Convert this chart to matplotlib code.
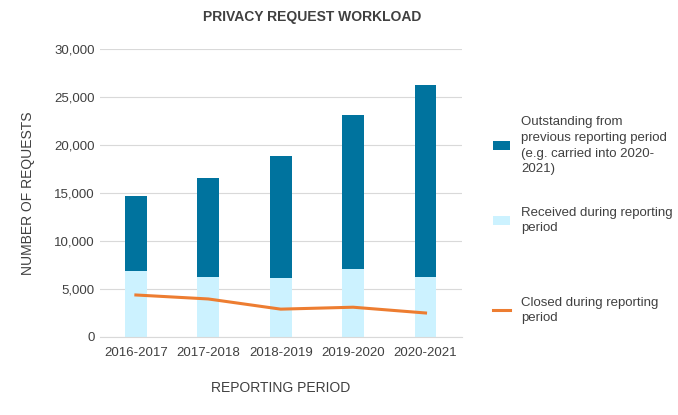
import matplotlib
matplotlib.use("Agg")
import matplotlib.pyplot as plt
import numpy as np

categories = ["2016-2017", "2017-2018", "2018-2019", "2019-2020", "2020-2021"]
received = [6875, 6250, 6150, 7100, 6250]
outstanding = [7800, 10300, 12650, 16000, 20000]
closed = [4375, 3960, 2900, 3100, 2500]
yticks = [0, 5000, 10000, 15000, 20000, 25000, 30000]

plt.rcParams["font.family"] = "Liberation Sans"
fig = plt.figure(figsize=(6.78, 4.15), dpi=100)
ax = fig.add_axes([0.147, 0.188, 0.534, 0.694])
x = np.arange(len(categories))
w = 0.3
ax.bar(x, received, w, color="#CCF2FF", label="Received during reporting\nperiod", zorder=2)
ax.bar(x, outstanding, w, bottom=received, color="#00739E",
       label="Outstanding from\nprevious reporting period\n(e.g. carried into 2020-\n2021)", zorder=2)
ax.plot(x, closed, color="#ED7D31", lw=2.2, label="Closed during reporting\nperiod", zorder=3)
ax.set_ylim(0, 30000)
ax.set_xlim(-0.5, 4.5)
ax.set_yticks(yticks)
ax.set_yticklabels([f"{v:,}" for v in yticks])
ax.set_xticks(x)
ax.set_xticklabels(categories)
ax.grid(axis="y", color="#D9D9D9", lw=0.8, zorder=0)
for s in ["top", "right", "left"]:
    ax.spines[s].set_visible(False)
ax.spines["bottom"].set_color("#D9D9D9")
ax.tick_params(length=0, colors="#404040", labelsize=9.5)
ax.tick_params(axis="x", pad=7)
ax.set_xlabel("REPORTING PERIOD", color="#404040", fontsize=10, labelpad=16)
ax.set_ylabel("NUMBER OF REQUESTS", color="#404040", fontsize=10, labelpad=14)
fig.text(0.46, 0.96, "PRIVACY REQUEST WORKLOAD", ha="center", va="center",
         fontsize=10, fontweight="bold", color="#404040")
h, l = ax.get_legend_handles_labels()
tops = [0.748, 0.531, 0.314]
for i, yt in zip([2, 1, 0], tops):
    leg = fig.legend([h[i]], [l[i]], loc="upper left", bbox_to_anchor=(0.71, yt),
                     frameon=False, fontsize=9.5, handlelength=1.3, labelcolor="#404040")
    for t in leg.get_texts():
        t.set_linespacing(1.4)
fig.savefig("out.png", dpi=100)
